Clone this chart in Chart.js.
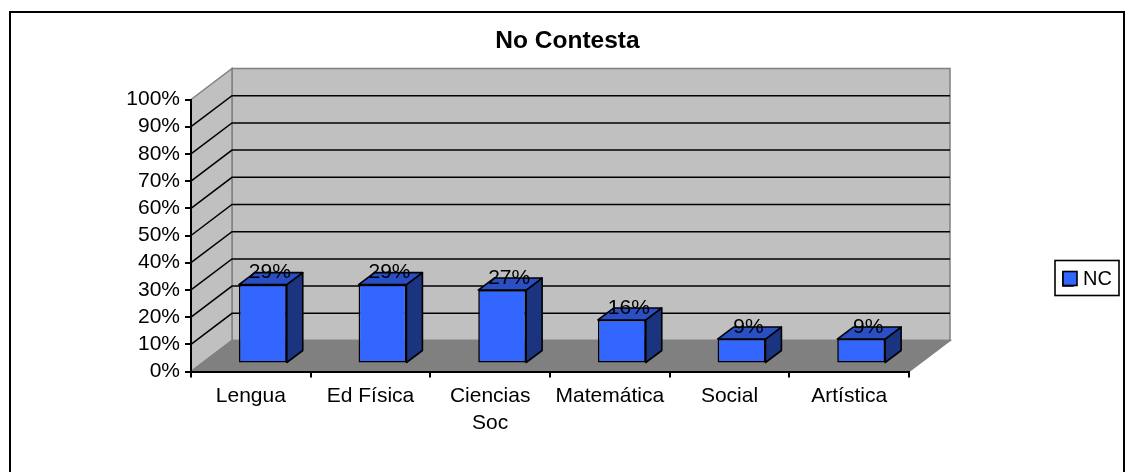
<!DOCTYPE html>
<html><head><meta charset="utf-8">
<style>html,body{margin:0;padding:0;background:#fff}canvas{display:block}</style>
<script src="https://cdn.jsdelivr.net/npm/chart.js@4"></script>
</head><body><div style="width:1129px;height:472px"><canvas id="c" width="1129" height="472"></canvas></div>
<script>
const categories = [['Lengua'], ['Ed Física'], ['Ciencias', 'Soc'], ['Matemática'], ['Social'], ['Artística']];
const seriesName = 'NC';
const values = [0.29, 0.29, 0.27, 0.16, 0.09, 0.09];
const titleText = 'No Contesta';

const FONT = '"Liberation Sans", Arial, sans-serif';
const BACK = {dx: 41, dy: -31};
const BAR = {shiftX: 12, shiftY: -8, dx: 16, dy: -12};
const COL = {front: '#3366FF', top: '#2A4FC4', side: '#1B3480', wall: '#C0C0C0', floor: '#808080', edge: '#808080', line: '#000000'};
const PLOT = {left: 191, right: 909, top: 99.5, bottom: 371.5};

const threeD = {
  id: 'threeD',
  beforeLayout(chart) {
    const lg = chart.legend;
    if (lg && !lg._wrapped) {
      lg._wrapped = true;
      const orig = lg.fit.bind(lg);
      lg.fit = function () { orig(); this._w = this.width; this.width = chart.width - PLOT.right; };
    }
  },
  afterLayout(chart) {
    const lg = chart.legend;
    lg.left = 1057; lg.right = lg.left + lg._w; lg.width = lg._w;
    lg.top = 263; lg.bottom = 295; lg.height = 32;
    const tb = chart.titleBlock;
    tb.left += 6;
  },
  beforeDraw(chart) {
    const {ctx, scales: {y}} = chart;
    const l = chart.chartArea.left, r = chart.chartArea.right;
    const b = y.getPixelForValue(0), t = y.getPixelForValue(1);
    const d = BACK;
    ctx.save();
    ctx.fillStyle = '#fff'; ctx.fillRect(0, 0, chart.width, chart.height);
    ctx.strokeStyle = '#000'; ctx.lineWidth = 2;
    ctx.strokeRect(10, 12, 1114, 480);
    // back wall + side wall + floor
    ctx.fillStyle = COL.wall; ctx.strokeStyle = COL.edge; ctx.lineWidth = 1.5;
    ctx.beginPath(); ctx.rect(l + d.dx, t + d.dy, r - l, b - t); ctx.fill(); ctx.stroke();
    ctx.beginPath(); ctx.moveTo(l, b); ctx.lineTo(l + d.dx, b + d.dy); ctx.lineTo(l + d.dx, t + d.dy); ctx.lineTo(l, t); ctx.closePath(); ctx.fill(); ctx.stroke();
    ctx.fillStyle = COL.floor;
    ctx.beginPath(); ctx.moveTo(l, b); ctx.lineTo(l + d.dx, b + d.dy); ctx.lineTo(r + d.dx, b + d.dy); ctx.lineTo(r, b); ctx.closePath(); ctx.fill(); ctx.stroke();
    // gridlines
    ctx.strokeStyle = COL.line; ctx.lineWidth = 1.5;
    y.ticks.forEach(tk => {
      if (tk.value <= 0 || tk.value >= 1) return;
      const py = y.getPixelForValue(tk.value);
      ctx.beginPath(); ctx.moveTo(l, py); ctx.lineTo(l + d.dx, py + d.dy); ctx.lineTo(r + d.dx, py + d.dy); ctx.stroke();
    });
    ctx.restore();
  },
  beforeDatasetDraw(chart) {
    chart.ctx.save();
    chart.ctx.translate(BAR.shiftX, BAR.shiftY);
  },
  afterDatasetDraw(chart, args) {
    const {ctx} = chart;
    const meta = args.meta;
    ctx.lineWidth = 1.6; ctx.strokeStyle = '#000'; ctx.lineJoin = 'round';
    meta.data.forEach(el => {
      const p = el.getProps(['x', 'y', 'base', 'width'], true);
      const x0 = p.x - p.width / 2, x1 = p.x + p.width / 2, yt = p.y, yb = p.base;
      ctx.fillStyle = COL.side;
      ctx.beginPath(); ctx.moveTo(x1, yt); ctx.lineTo(x1 + BAR.dx, yt + BAR.dy); ctx.lineTo(x1 + BAR.dx, yb + BAR.dy); ctx.lineTo(x1, yb); ctx.closePath(); ctx.fill(); ctx.stroke();
      ctx.fillStyle = COL.top;
      ctx.beginPath(); ctx.moveTo(x0, yt); ctx.lineTo(x0 + BAR.dx, yt + BAR.dy); ctx.lineTo(x1 + BAR.dx, yt + BAR.dy); ctx.lineTo(x1, yt); ctx.closePath(); ctx.fill(); ctx.stroke();
    });
    ctx.restore();
    // value labels
    ctx.save();
    ctx.fillStyle = '#000'; ctx.font = '21px ' + FONT; ctx.textAlign = 'center'; ctx.textBaseline = 'middle';
    meta.data.forEach((el, i) => {
      const p = el.getProps(['x', 'y'], true);
      ctx.fillText(Math.round(values[i] * 100) + '%', p.x + 19, p.y - 20);
    });
    ctx.restore();
  },
  afterDraw(chart) {
    const {ctx} = chart;
    ctx.save();
    ctx.strokeStyle = '#000'; ctx.lineWidth = 1.6;
    ctx.strokeRect(1055, 260.5, 64, 35);
    ctx.fillStyle = COL.front;
    ctx.fillRect(1063, 271.5, 14, 14); ctx.strokeRect(1063, 271.5, 14, 14);
    ctx.restore();
  }
};

new Chart(document.getElementById('c'), {
  type: 'bar',
  data: {labels: categories, datasets: [{
    label: seriesName, data: values, backgroundColor: COL.front, borderColor: '#000', borderWidth: 1.6,
    borderSkipped: false, categoryPercentage: 1, barPercentage: 0.4, clip: false
  }]},
  options: {
    responsive: false, animation: false,
    layout: {autoPadding: false, padding: 0},
    scales: {
      x: {
        type: 'category', offset: true,
        grid: {offset: true, drawOnChartArea: false, drawTicks: true, tickLength: 6, color: '#000', lineWidth: 2},
        border: {display: true, color: '#000', width: 2},
        ticks: {color: '#000', font: {family: FONT, size: 21, lineHeight: 1.286}, maxRotation: 0, autoSkip: false, padding: 5},
        afterFit(s) { s.height = 472 - PLOT.bottom; }
      },
      y: {
        min: 0, max: 1,
        grid: {drawOnChartArea: false, drawTicks: true, tickLength: 6, color: '#000', lineWidth: 2},
        border: {display: true, color: '#000', width: 2},
        ticks: {stepSize: 0.1, autoSkip: false, color: '#000', font: {family: FONT, size: 21}, padding: 5,
          callback: v => Math.round(v * 100) + '%'},
        afterFit(s) { s.width = PLOT.left; }
      }
    },
    plugins: {
      title: {display: true, text: titleText, color: '#000', font: {family: FONT, size: 24.5, weight: 'bold'},
        padding: {top: 26.5, bottom: 43.6}},
      legend: {display: true, position: 'right', align: 'start',
        labels: {boxWidth: 10, boxHeight: 14, padding: 6, color: '#000', font: {family: FONT, size: 20}}},
      tooltip: {enabled: false}
    }
  },
  plugins: [threeD]
});
</script></body></html>
